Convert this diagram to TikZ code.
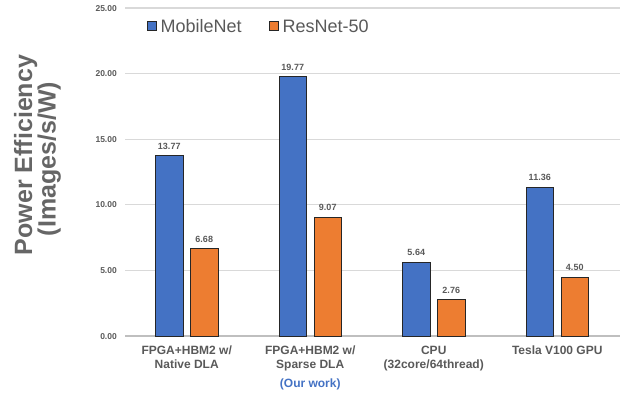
\documentclass[tikz,border=0pt]{standalone}
\usepackage{fontspec}
\setmainfont{Liberation Sans}
\definecolor{barblue}{HTML}{4472C4}
\definecolor{barorange}{HTML}{ED7D31}
\definecolor{txtgray}{HTML}{595959}
\definecolor{labgray}{HTML}{666666}
\definecolor{gridgray}{HTML}{D9D9D9}
\definecolor{axisgray}{HTML}{BFBFBF}
\begin{document}
\begin{tikzpicture}[x=1pt,y=-1pt,
  barbox/.style={draw=black!85, line width=0.8pt},
  ticklab/.style={font=\bfseries\fontsize{8.5}{10}\selectfont, text=txtgray, anchor=base east, inner sep=0pt},
  vallab/.style={font=\bfseries\fontsize{9}{10}\selectfont, text=txtgray, anchor=base, inner sep=0pt},
  catlab/.style={font=\bfseries\fontsize{12}{14}\selectfont, text=txtgray, anchor=base, inner sep=0pt},
  leglab/.style={font=\fontsize{18}{20}\selectfont, text=txtgray, anchor=base west, inner sep=0pt},
  axlab/.style={font=\bfseries\fontsize{25}{27}\selectfont, text=labgray, anchor=base, rotate=90, inner sep=0pt},
  gridline/.style={gridgray, line width=1.1pt}
]
\useasboundingbox (0,0) rectangle (622,394);

% value -> canvas y: 336 - 13.12*v
\def\ybase{336}
\def\yunit{13.12}

% grid lines and tick labels
\foreach \v/\t in {5/5.00,10/10.00,15/15.00,20/20.00,25/25.00}{
  \pgfmathsetmacro{\yy}{\ybase-\yunit*\v}
  \draw[gridline] (125,\yy) -- (620,\yy);
  \node[ticklab] (tick\v) at (117,\yy+3.1) {\t};
}
\draw[axisgray, line width=1.6pt] (125,\ybase) -- (620,\ybase);
\node[ticklab] (tick0) at (117,\ybase+3.1) {0.00};

% bars and value labels
\foreach \k/\vb/\tb/\vo/\to in {0/13.77/13.77/6.68/6.68, 1/19.77/19.77/9.07/9.07, 2/5.64/5.64/2.76/2.76, 3/11.36/11.36/4.50/4.50}{
  \pgfmathsetmacro{\cx}{186.75+123.5*\k}
  \pgfmathsetmacro{\yb}{\ybase-\yunit*\vb}
  \pgfmathsetmacro{\yo}{\ybase-\yunit*\vo}
  \draw[barbox, fill=barblue] (\cx-31.3,\ybase) rectangle (\cx-3.7,\yb);
  \draw[barbox, fill=barorange] (\cx+3.7,\ybase) rectangle (\cx+31.3,\yo);
  \node[vallab] (valb\k) at (\cx-17.5,\yb-6.2) {\tb};
  \node[vallab] (valo\k) at (\cx+17.5,\yo-6.2) {\to};
}

% category labels
\node[catlab] (cat0a) at (186.75,354.8) {FPGA+HBM2 w/};
\node[catlab] (cat0b) at (186.75,368.8) {Native DLA};
\node[catlab] (cat1a) at (310.25,354.8) {FPGA+HBM2 w/};
\node[catlab] (cat1b) at (310.25,368.8) {Sparse DLA};
\node[catlab, text=barblue] (ours) at (310.25,387.6) {(Our work)};
\node[catlab] (cat2a) at (433.75,354.8) {CPU};
\node[catlab] (cat2b) at (433.75,368.8) {(32core/64thread)};
\node[catlab] (cat3a) at (557.25,354.8) {Tesla V100 GPU};

% legend
\draw[barbox, line width=0.7pt, fill=barblue] (147.5,21.7) rectangle (156.3,30.5);
\node[leglab] (legb) at (160.5,32.4) {MobileNet};
\draw[barbox, line width=0.7pt, fill=barorange] (269.5,21.7) rectangle (278.3,30.5);
\node[leglab] (lego) at (282.5,32.4) {ResNet-50};

% axis title
\node[axlab] (ytitle1) at (32,155) {Power Efficiency};
\node[axlab] (ytitle2) at (55.5,159) {(Images/s/W)};
\end{tikzpicture}
\end{document}
